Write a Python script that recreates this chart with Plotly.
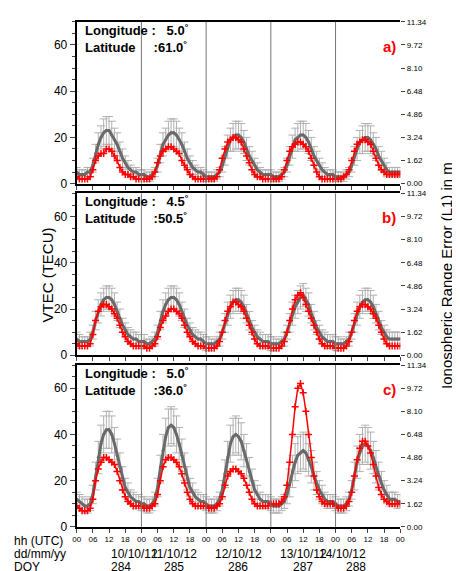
import plotly.graph_objects as go

hours = list(range(0, 121))
dates = ["10/10/12", "11/10/12", "12/10/12", "13/10/12", "14/10/12"]
doys = ["284", "285", "286", "287", "288"]
hh_labels = ["00", "06", "12", "18"] * 5 + ["00"]
right_ticks = [0.00, 1.62, 3.24, 4.86, 6.48, 8.10, 9.72, 11.34]

# Panel a (Lon 5.0, Lat 61.0)
grey_a = [5,4,4,4,5,5,8,13,17,20,22,23,23,21,19,17,14,11,9,7,6,5,5,4,
          4,4,3,3,4,5,8,13,17,19,21,22,22,21,19,17,14,11,9,7,6,5,5,4,
          3,3,3,3,4,5,8,12,16,19,20,21,21,20,18,15,12,10,8,6,5,4,4,4,
          4,3,3,3,4,5,8,12,16,19,20,21,21,20,18,15,12,10,8,6,5,4,4,4,
          3,3,3,3,4,5,8,12,15,18,19,20,20,19,17,15,12,10,8,6,5,5,5,5,5]
red_a = [3,2,2,2,2,3,6,10,12,13,13,15,15,14,12,10,7,5,4,4,3,3,2,2,
         2,2,2,2,3,5,9,12,14,15,16,16,15,14,13,10,8,6,4,3,2,2,2,2,
         2,2,2,2,3,6,11,15,18,19,20,20,19,18,15,12,9,6,4,3,3,2,2,2,
         2,2,2,2,3,6,10,14,16,17,18,18,17,16,14,11,8,5,3,2,2,2,2,2,
         2,2,2,3,4,6,10,14,17,18,19,19,18,17,14,11,8,6,5,4,4,4,4,4,4]
# Panel b (Lon 4.5, Lat 50.5)
grey_b = [7,6,6,6,6,7,10,15,19,22,24,25,25,24,22,19,16,13,11,9,8,7,7,6,
          6,6,5,5,6,7,10,15,19,22,24,25,25,24,22,19,16,13,11,9,8,7,7,6,
          5,5,5,5,6,7,10,14,18,21,23,24,24,23,21,18,15,12,10,8,7,6,6,6,
          5,5,5,5,6,7,10,14,18,21,23,25,26,24,22,18,15,12,10,8,7,6,6,6,
          5,5,5,5,6,7,10,14,18,21,23,24,24,23,21,18,15,12,10,8,7,7,7,7,7]
red_b = [5,4,4,4,4,5,9,15,19,21,22,22,21,20,18,16,13,10,8,6,5,4,4,4,
         4,4,3,3,4,5,8,12,15,17,19,20,20,19,18,16,13,10,8,6,5,4,4,4,
         3,3,3,3,4,6,10,15,19,21,23,23,22,21,19,16,13,10,7,5,4,4,4,4,
         3,3,3,3,4,6,10,15,20,24,26,27,25,22,19,16,13,10,7,5,4,4,4,4,
         3,3,3,3,4,6,10,15,19,21,22,22,21,20,18,16,13,10,7,5,4,4,4,4,4]
# Panel c (Lon 5.0, Lat 36.0)
grey_c = [12,11,10,9,9,10,14,22,30,36,40,42,42,40,36,31,26,21,17,15,13,12,11,11,
          10,10,9,9,10,12,17,25,33,39,43,44,43,40,36,31,26,21,17,15,13,12,11,11,
          10,9,9,9,10,12,16,23,30,36,39,40,39,37,33,29,24,20,16,14,12,11,11,11,
          10,9,9,9,10,11,14,19,24,28,31,32,33,32,29,26,22,19,16,14,12,11,11,11,
          10,9,9,9,10,12,16,22,28,32,35,36,35,33,30,26,22,19,16,14,12,12,12,11,11]
red_c = [9,8,7,7,7,8,12,20,25,28,30,30,29,28,27,24,20,16,13,11,10,9,9,9,
         9,8,8,8,9,10,14,20,26,29,30,30,29,28,26,23,19,15,12,10,9,9,9,9,
         9,8,8,8,9,10,13,18,22,24,25,25,24,23,21,18,15,12,10,9,9,9,9,9,
         10,10,10,10,11,13,18,28,40,52,60,62,58,50,40,30,22,16,13,11,10,10,10,10,
         9,8,8,8,9,11,15,22,29,34,37,37,35,32,27,22,17,14,12,11,10,10,10,10,10]
std_day_a = [2,2,2,2,2,2,3,4,5,5,6,6,6,6,5,5,4,4,3,3,2,2,2,2]
std_day_b = [3,3,2,2,2,3,3,4,5,5,5,5,5,5,5,4,4,3,3,3,3,3,3,3]
std_day_c = [3,3,3,3,3,3,4,6,7,8,8,8,8,8,7,7,6,5,4,4,3,3,3,3]

panels = [
    dict(grey=grey_a, red=red_a, std=std_day_a, lon="5.0", lat="61.0", tag="a)"),
    dict(grey=grey_b, red=red_b, std=std_day_b, lon="4.5", lat="50.5", tag="b)"),
    dict(grey=grey_c, red=red_c, std=std_day_c, lon="5.0", lat="36.0", tag="c)"),
]
doms = [(0.6935, 0.9825), (0.387, 0.676), (0.0806, 0.3695)]
X0, X1 = 66/460, 396/460

fig = go.Figure()
FONT = "Liberation Sans, Arial, sans-serif"
ann = []
shapes = []
for i, p in enumerate(panels):
    n = i + 1
    xa = "x" if n == 1 else f"x{n}"
    ya = "y" if n == 1 else f"y{n}"
    std = (p["std"] * 6)[:121]
    fig.add_trace(go.Scatter(x=hours, y=p["grey"], xaxis=xa, yaxis=ya, mode="lines+markers",
        line=dict(color="#6a6a6a", width=3), marker=dict(size=3, color="#6a6a6a"),
        error_y=dict(type="data", array=std, color="#b0b0b0", thickness=1, width=4),
        showlegend=False))
    fig.add_trace(go.Scatter(x=hours, y=p["red"], xaxis=xa, yaxis=ya, mode="lines+markers",
        line=dict(color="red", width=1.5), marker=dict(symbol="cross-thin", size=5, color="red",
        line=dict(color="red", width=1.5)), showlegend=False))
    d0, d1 = doms[i]
    last = n == 3
    fig.layout[f"xaxis{'' if n == 1 else n}"] = dict(domain=[X0, X1], range=[0, 120],
        anchor=ya, tickvals=list(range(0, 121, 6)), ticktext=hh_labels, showticklabels=last,
        ticks="outside", ticklen=4, showgrid=False, zeroline=False, showline=True, mirror=True,
        linecolor="black", linewidth=2, tickfont=dict(size=8, family=FONT))
    fig.layout[f"yaxis{'' if n == 1 else n}"] = dict(domain=[d0, d1], range=[0, 70], anchor=xa,
        tickvals=[0, 20, 40, 60], ticks="outside", ticklen=5, showgrid=False, zeroline=False,
        minor=dict(dtick=5, ticks="outside", ticklen=3), tickfont=dict(size=12, family=FONT),
        showline=True, linecolor="black", linewidth=2)
    ry = f"y{n+3}"
    fig.add_trace(go.Scatter(x=[0], y=[0], xaxis=xa, yaxis=ry, mode="markers",
        marker=dict(opacity=0), showlegend=False, hoverinfo="skip"))
    fig.layout[f"yaxis{n+3}"] = dict(overlaying=ya, side="right", anchor=xa, range=[0, 11.34],
        tickvals=right_ticks, ticktext=[f"{v:.2f}" for v in right_ticks], ticks="outside",
        ticklen=4, showgrid=False, zeroline=False, tickfont=dict(size=8, family=FONT))
    for d in range(1, 5):
        shapes.append(dict(type="line", xref=xa, yref=f"{ya} domain", x0=24*d, x1=24*d, y0=0, y1=1,
                           line=dict(color="#777777", width=1)))
    ann.append(dict(xref="paper", yref="paper", x=X0 + 0.015, y=d1 + 0.004, xanchor="left", yanchor="top",
        align="left", showarrow=False,
        text=f"<b>Longitude :   {p['lon']}<sup>°</sup><br>Latitude     :{p['lat']}<sup>°</sup></b>",
        font=dict(size=13, family=FONT, color="black")))
    ann.append(dict(xref="paper", yref="paper", x=X1 - 0.005, y=d1 - 0.025, xanchor="right", yanchor="top",
        showarrow=False, text=f"<b>{p['tag']}</b>", font=dict(size=15, family=FONT, color="red")))

for k in range(5):
    xp = X0 + (X1 - X0) * (24 * k + 12) / 120
    ann.append(dict(xref="paper", yref="paper", x=xp, y=1 - 553/571, yanchor="middle", showarrow=False,
        text=dates[k], font=dict(size=12, family=FONT)))
    ann.append(dict(xref="paper", yref="paper", x=xp, y=1 - 566/571, yanchor="middle", showarrow=False,
        text=doys[k], font=dict(size=12, family=FONT)))
for t, yp in [("hh (UTC)", 539), ("dd/mm/yy", 553), ("DOY", 566)]:
    ann.append(dict(xref="paper", yref="paper", x=0.0, y=1 - yp/571, xanchor="left", yanchor="middle",
        showarrow=False, text=t, font=dict(size=12, family=FONT)))
ann.append(dict(xref="paper", yref="paper", x=0.055, y=0.53, textangle=-90, showarrow=False,
    text="VTEC (TECU)", font=dict(size=15, family=FONT)))
ann.append(dict(xref="paper", yref="paper", x=0.985, y=0.53, textangle=-90, showarrow=False,
    text="Ionospheric Range Error (L1) in m", font=dict(size=15, family=FONT)))

fig.update_layout(width=460, height=571, margin=dict(l=0, r=0, t=0, b=0),
    plot_bgcolor="white", paper_bgcolor="white", annotations=ann, shapes=shapes,
    font=dict(family=FONT, color="black"))
fig.write_html("out.html")
